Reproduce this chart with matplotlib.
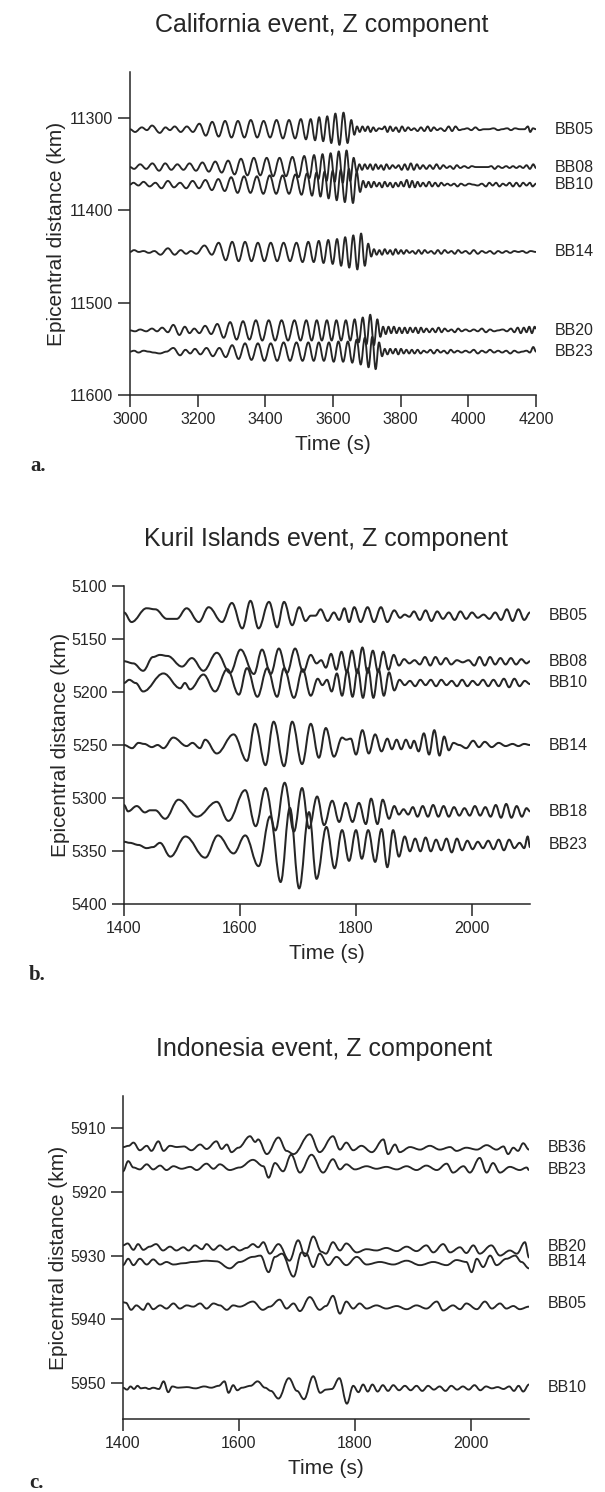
import matplotlib.pyplot as plt
from matplotlib.path import Path
from matplotlib.patches import PathPatch

plt.rcParams["font.family"] = ["Liberation Sans", "DejaVu Sans"]

# ---------------------------------------------------------------- data
# each trace: (time s, ground motion in km of plot offset, + = up) at the
# turning points; baselines are epicentral distances

ca_labels = ["BB05", "BB08", "BB10", "BB14", "BB20", "BB23"]
ca_dist = [11312, 11353, 11372, 11445, 11530, 11553]

ca_bb05 = [(3000, 0), (3015, -3), (3035, 2), (3050, -1), (3065, 4), (3088, -4), (3105, 2), (3118, -1),
           (3132, 3), (3150, -3), (3168, 3), (3186, -3), (3205, 6), (3224, -7), (3243, 8), (3262, -8),
           (3281, 9), (3300, -9), (3319, 9), (3338, -9), (3357, 10), (3376, -9), (3395, 9), (3414, -9),
           (3433, 10), (3452, -10), (3470, 10), (3488, -10), (3505, 11), (3520, -11), (3534, 11), (3547, -12),
           (3559, 13), (3571, -13), (3583, 14), (3595, -15), (3607, 17), (3619, -17), (3631, 18), (3643, -15),
           (3654, 10), (3663, -6), (3671, 3), (3679, -3), (3687, 3), (3695, -2), (3703, 3), (3711, -3),
           (3719, 2), (3727, -2), (3736, 1), (3745, 0), (3753, 3), (3761, -3), (3769, 3), (3777, -2),
           (3786, 2), (3795, -3), (3804, 3), (3813, -2), (3822, 2), (3831, -1), (3840, 1), (3850, -2),
           (3860, 2), (3870, -2), (3880, 3), (3889, -2), (3898, 2), (3908, -1), (3918, 1), (3930, -2),
           (3942, 3), (3952, -2), (3962, 3), (3973, -1), (3985, 0), (3997, 1), (4009, -1), (4021, 2),
           (4033, -1), (4046, 0), (4060, 0), (4075, 1), (4088, -1), (4100, 0), (4115, 1), (4126, -1),
           (4138, 1), (4152, 0), (4166, 0), (4176, 3), (4183, -3), (4191, 1), (4200, 0)]

ca_bb08 = [(3000, 0), (3012, -2), (3030, 3), (3048, -2), (3066, 4), (3086, -4), (3104, 4), (3122, -3),
           (3140, 3), (3158, -3), (3176, 4), (3195, -4), (3214, 5), (3233, -5), (3252, 6), (3271, -6),
           (3290, 7), (3309, -8), (3328, 9), (3347, -9), (3366, 10), (3385, -9), (3404, 10), (3423, -10),
           (3442, 10), (3461, -10), (3480, 11), (3498, -11), (3515, 12), (3530, -12), (3544, 13), (3557, -13),
           (3569, 14), (3581, -15), (3593, 15), (3605, -16), (3617, 17), (3629, -17), (3640, 18), (3651, -15),
           (3661, 10), (3670, -5), (3678, 3), (3686, -3), (3694, 3), (3702, -2), (3710, 3), (3718, -3),
           (3726, 3), (3734, -2), (3742, 2), (3750, -3), (3758, 3), (3767, -2), (3776, 2), (3785, -1),
           (3794, 2), (3803, -3), (3812, 3), (3821, -3), (3830, 4), (3839, -3), (3848, 3), (3857, -2),
           (3866, 2), (3876, -2), (3886, 2), (3896, -2), (3906, 3), (3916, -2), (3926, 2), (3936, -1),
           (3946, 1), (3956, -2), (3966, 2), (3976, -1), (3988, 1), (4000, -1), (4010, 1), (4022, 0),
           (4040, 0), (4058, 0), (4068, 1), (4078, -2), (4088, 1), (4100, -1), (4112, 1), (4122, -1),
           (4132, 1), (4142, -1), (4152, 1), (4162, -1), (4172, 2), (4182, -2), (4192, 3), (4200, -1)]

ca_bb10 = [(3000, 0), (3010, 2), (3025, -1), (3040, 3), (3058, -2), (3075, 2), (3093, -4), (3112, 4),
           (3130, -3), (3148, 2), (3166, -4), (3185, 4), (3204, -4), (3223, 5), (3242, -6), (3261, 6),
           (3280, -7), (3299, 8), (3318, -9), (3337, 9), (3356, -9), (3375, 9), (3394, -10), (3413, 10),
           (3432, -10), (3451, 10), (3470, -10), (3489, 11), (3507, -11), (3523, 12), (3538, -12), (3551, 13),
           (3563, -13), (3575, 14), (3587, -15), (3599, 15), (3611, -17), (3623, 16), (3635, -19), (3647, 17),
           (3659, -20), (3670, 14), (3680, -8), (3689, 4), (3697, -3), (3705, 3), (3713, -3), (3721, 3),
           (3729, -2), (3737, 2), (3745, -3), (3753, 3), (3761, -2), (3769, 2), (3777, -3), (3785, 2),
           (3793, -2), (3801, 3), (3809, -2), (3818, 5), (3826, -3), (3834, 4), (3842, -3), (3850, 3),
           (3858, -2), (3866, 2), (3875, -2), (3884, 3), (3893, -2), (3902, 2), (3911, -2), (3920, 2),
           (3929, -1), (3938, 1), (3948, -1), (3958, 1), (3968, -2), (3978, 1), (3990, -1), (4002, 1),
           (4014, 0), (4028, -1), (4040, 1), (4052, -2), (4062, 2), (4072, -1), (4082, 2), (4092, -2),
           (4102, 1), (4112, -1), (4122, 2), (4132, -2), (4142, 2), (4152, -2), (4162, 2), (4172, -1),
           (4182, 2), (4190, -2), (4200, 1)]

ca_bb14 = [(3000, 0), (3012, 2), (3026, 0), (3040, 1), (3056, -1), (3072, 1), (3090, -3), (3112, 4),
           (3132, -3), (3150, 2), (3166, -2), (3180, 1), (3196, -2), (3220, 7), (3242, -3), (3262, 10),
           (3283, -9), (3302, 11), (3321, -10), (3340, 11), (3359, -10), (3378, 10), (3397, -10), (3416, 10),
           (3435, -10), (3454, 10), (3473, -10), (3492, 10), (3510, -11), (3527, 11), (3543, -11), (3558, 12),
           (3572, -12), (3586, 13), (3599, -13), (3612, 14), (3624, -15), (3636, 16), (3648, -17), (3660, 18),
           (3672, -19), (3683, 20), (3694, -15), (3704, 9), (3713, -5), (3721, 3), (3729, -3), (3737, 2),
           (3745, -3), (3753, 3), (3761, -2), (3769, 2), (3777, -3), (3785, 3), (3793, -2), (3801, 2),
           (3809, -2), (3817, 2), (3826, -1), (3835, 1), (3844, -2), (3853, 2), (3862, -2), (3871, 2),
           (3880, -1), (3890, 1), (3900, -2), (3910, 2), (3920, -2), (3930, 2), (3940, -1), (3950, 1),
           (3960, -2), (3970, 2), (3980, -1), (3992, 1), (4004, -2), (4016, 2), (4028, -2), (4040, 1),
           (4052, -1), (4064, 1), (4076, -2), (4088, 1), (4100, -1), (4112, 1), (4124, -1), (4136, 1),
           (4148, 0), (4160, 1), (4172, -1), (4184, 1), (4200, 0)]

ca_bb20 = [(3000, 0), (3015, -1), (3030, 1), (3048, -1), (3065, 2), (3080, -1), (3095, 3), (3112, -2),
           (3128, 6), (3146, -5), (3162, 4), (3176, -3), (3190, 2), (3205, -3), (3222, 5), (3240, -4),
           (3258, 7), (3277, -8), (3296, 9), (3315, -10), (3334, 10), (3353, -10), (3372, 11), (3391, -11),
           (3410, 11), (3429, -11), (3448, 11), (3467, -11), (3486, 11), (3504, -11), (3521, 11), (3537, -11),
           (3552, 11), (3567, -11), (3582, 11), (3596, -11), (3610, 11), (3624, -11), (3638, 11), (3651, -11),
           (3664, 12), (3676, -13), (3688, 14), (3699, -15), (3710, 17), (3721, -16), (3731, 12), (3740, -7),
           (3748, 4), (3756, -4), (3764, 4), (3772, -3), (3780, 4), (3788, -3), (3796, 3), (3804, -3),
           (3812, 3), (3820, -3), (3828, 3), (3836, -2), (3844, 3), (3852, -3), (3860, 3), (3868, -2),
           (3876, 2), (3885, -2), (3894, 2), (3903, -2), (3912, 3), (3921, -2), (3930, 2), (3940, -1),
           (3950, 1), (3960, -2), (3970, 2), (3980, -1), (3992, 1), (4004, -1), (4016, 1), (4028, -1),
           (4040, 2), (4052, -2), (4064, 1), (4076, -1), (4088, 0), (4102, 1), (4114, -1), (4126, 2),
           (4136, -2), (4146, 3), (4155, -3), (4164, 3), (4172, -2), (4180, 4), (4188, -3), (4196, 4),
           (4200, 2)]

ca_bb23 = [(3000, 0), (3012, 1), (3025, -1), (3040, 1), (3055, 0), (3070, -1), (3088, -2), (3108, 0),
           (3128, 4), (3148, -4), (3164, 2), (3178, -2), (3192, 3), (3208, -3), (3226, 4), (3245, -5),
           (3264, 4), (3283, -6), (3302, 7), (3321, -8), (3340, 9), (3359, -9), (3378, 9), (3397, -10),
           (3416, 9), (3435, -10), (3454, 10), (3473, -10), (3492, 10), (3510, -10), (3527, 10), (3543, -10),
           (3558, 10), (3573, -10), (3588, 10), (3602, -11), (3616, 11), (3630, -11), (3644, 11), (3657, -12),
           (3670, 13), (3682, -14), (3694, 15), (3705, -17), (3716, 16), (3726, -19), (3736, 10), (3745, -5),
           (3753, 3), (3761, -3), (3769, 3), (3777, -2), (3785, 3), (3793, -3), (3801, 3), (3809, -2),
           (3817, 2), (3825, -2), (3833, 2), (3841, -2), (3850, 2), (3859, -2), (3868, 1), (3878, -1),
           (3888, 2), (3898, -2), (3908, 2), (3918, -1), (3928, 1), (3938, -2), (3948, 2), (3958, -1),
           (3968, 1), (3980, -1), (3992, 1), (4004, -1), (4016, 2), (4028, -2), (4040, 1), (4052, -1),
           (4064, 2), (4076, -1), (4088, 1), (4100, -1), (4112, 1), (4124, -2), (4136, 1), (4148, -1),
           (4160, 0), (4172, 1), (4182, -1), (4192, 5), (4200, 0)]

ku_labels = ["BB05", "BB08", "BB10", "BB14", "BB18", "BB23"]
ku_dist = [5128, 5171, 5191.5, 5250, 5312.6, 5344.3]

ku_bb05 = [(1400, 3), (1413, -6), (1439, 7), (1454, 6), (1474, -3), (1491, -3), (1508, 7), (1529, -6),
           (1546, 8), (1569, -6), (1586, 12), (1604, -12), (1618, 14), (1632, -12), (1650, 13), (1664, -11),
           (1676, 13), (1690, -9), (1702, 8), (1713, -5), (1722, 0), (1730, 0), (1739, 6), (1751, -5),
           (1762, 3), (1771, -4), (1780, 7), (1788, -6), (1797, 8), (1808, -6), (1820, 8), (1831, -6),
           (1843, 8), (1854, -6), (1866, 5), (1876, -2), (1884, 1), (1892, -1), (1900, 4), (1910, -4),
           (1920, 5), (1930, -5), (1940, 4), (1950, -3), (1960, 3), (1970, -4), (1980, 4), (1990, -3),
           (2000, 3), (2010, -2), (2020, 1), (2030, -3), (2040, 3), (2050, -4), (2060, 6), (2070, -5),
           (2080, 6), (2090, -4), (2100, 3)]

ku_bb08 = [(1400, 0), (1416, -2), (1433, -9), (1450, 4), (1462, 6), (1475, 5), (1500, -5), (1517, 3),
           (1537, -9), (1560, 8), (1583, -11), (1601, 11), (1624, -12), (1638, 11), (1653, -12), (1667, 12),
           (1681, -11), (1695, 12), (1709, -10), (1722, 6), (1732, -2), (1740, 1), (1748, -6), (1757, 7),
           (1766, -8), (1775, 9), (1784, -10), (1793, 10), (1802, -11), (1811, 13), (1820, -11), (1829, 10),
           (1838, -10), (1847, 9), (1856, -8), (1865, 6), (1874, -4), (1883, 2), (1892, -2), (1901, 1),
           (1910, -3), (1919, 4), (1928, -4), (1937, 4), (1946, -3), (1955, 3), (1964, -3), (1974, 1),
           (1984, -1), (1994, 1), (2004, -4), (2013, 4), (2022, -4), (2031, 4), (2040, -3), (2049, 3),
           (2058, -3), (2067, 3), (2076, -3), (2085, 2), (2094, -2), (2100, 0)]

ku_bb10 = [(1400, 0), (1409, 3), (1420, 0), (1433, -8), (1468, 9), (1497, -5), (1505, 0), (1514, -6),
           (1537, 8), (1557, -8), (1578, 13), (1598, -11), (1612, 14), (1630, -13), (1647, 14), (1664, -13),
           (1676, 14), (1693, -14), (1708, 13), (1722, -12), (1734, 4), (1742, -2), (1750, 3), (1758, -8),
           (1767, 9), (1776, -12), (1785, 12), (1794, -13), (1803, 13), (1812, -14), (1821, 14), (1830, -14),
           (1839, 13), (1848, -12), (1857, 10), (1866, -7), (1875, 3), (1884, -2), (1893, 2), (1902, -3),
           (1911, 3), (1920, -2), (1929, 3), (1938, -3), (1947, 3), (1956, -2), (1965, 2), (1974, -3),
           (1983, 3), (1992, -3), (2001, 2), (2010, -2), (2019, 3), (2028, -3), (2037, 3), (2046, -3),
           (2055, 4), (2064, -4), (2073, 4), (2082, -3), (2091, 2), (2100, -1)]

ku_bb14 = [(1400, 0), (1414, -3), (1425, 2), (1435, 1), (1448, -2), (1458, 0), (1468, -3), (1485, 7),
           (1508, -1), (1518, 2), (1531, -3), (1540, 5), (1560, -8), (1589, 10), (1612, -15), (1626, 20),
           (1644, -19), (1658, 22), (1676, -20), (1690, 22), (1707, -18), (1722, 20), (1736, -12), (1748, 16),
           (1762, -11), (1776, 7), (1783, 5), (1791, 6), (1800, -9), (1811, 14), (1822, -8), (1833, 10),
           (1844, -6), (1854, 6), (1862, -4), (1870, 5), (1878, -4), (1886, 5), (1894, -3), (1900, 4),
           (1908, -6), (1917, 11), (1926, -9), (1935, 14), (1944, -10), (1952, 8), (1960, -5), (1968, 2),
           (1978, 0), (1990, -3), (2002, 4), (2012, -2), (2022, 3), (2034, -2), (2046, 2), (2058, -1),
           (2070, 1), (2080, -1), (2090, 1), (2100, 0)]

ku_bb18 = [(1400, 6), (1407, 0), (1422, 5), (1436, -1), (1445, 1), (1454, 1), (1471, -7), (1494, 11),
           (1526, -5), (1560, 9), (1580, -9), (1609, 20), (1627, -14), (1644, 22), (1661, -18), (1677, 27),
           (1693, -19), (1707, 22), (1719, -16), (1733, 14), (1745, -13), (1759, 10), (1771, -10), (1782, 8),
           (1794, -10), (1805, 8), (1817, -12), (1826, 12), (1837, -12), (1846, 11), (1857, -7), (1866, 5),
           (1874, -3), (1882, 2), (1890, -3), (1898, 4), (1906, -5), (1915, 5), (1924, -5), (1933, 6),
           (1942, -5), (1951, 5), (1960, -5), (1969, 4), (1978, -4), (1987, 3), (1996, -4), (2005, 5),
           (2014, -4), (2023, 4), (2032, -5), (2041, 6), (2050, -6), (2059, 7), (2068, -6), (2077, 5),
           (2086, -5), (2094, 3), (2100, 0)]

ku_bb23 = [(1400, 3), (1410, 2), (1425, 0), (1439, -3), (1450, -2), (1462, 2), (1480, -11), (1506, 8),
           (1540, -12), (1562, 9), (1589, -8), (1609, 9), (1632, -20), (1652, 27), (1670, -35), (1686, 35),
           (1702, -41), (1719, 31), (1732, -32), (1749, 17), (1763, -22), (1776, 14), (1788, -15), (1800, 14),
           (1810, -13), (1821, 14), (1833, -16), (1844, 15), (1854, -21), (1864, 14), (1874, -11), (1884, 8),
           (1893, -6), (1902, 6), (1911, -6), (1920, 7), (1929, -6), (1938, 5), (1947, -5), (1956, 6),
           (1965, -7), (1974, 6), (1983, -5), (1992, 4), (2001, -4), (2010, 3), (2019, -3), (2028, 4),
           (2037, -4), (2046, 5), (2055, -5), (2064, 5), (2073, -3), (2082, 2), (2090, -3), (2096, 8),
           (2100, -2)]

in_labels = ["BB36", "BB23", "BB20", "BB14", "BB05", "BB10"]
in_dist = [5913, 5916.5, 5928.6, 5931, 5937.5, 5950.7]

in_bb36 = [(1400, 0), (1410, 0.2), (1418, 0.7), (1429, -0.5), (1441, 0.2), (1449, -0.6), (1461, 0.9),
           (1470, -0.6), (1481, 0.2), (1493, 0), (1505, 0.1), (1518, -0.5), (1533, 0.4), (1544, -0.3),
           (1561, 0.9), (1570, -0.3), (1579, 0.4), (1587, -0.8), (1599, -0.1), (1619, 1.7), (1628, 0.8),
           (1633, 1.2), (1648, -1.1), (1668, 1.5), (1682, -0.6), (1694, -1.1), (1722, 2.0), (1739, -0.8),
           (1762, 1.7), (1774, -0.4), (1785, 0.7), (1797, -0.5), (1811, 0.2), (1829, -0.8), (1849, 1.2),
           (1857, -1.1), (1869, 0.4), (1877, -0.8), (1895, 0), (1912, -0.4), (1929, 0.2), (1946, -0.4),
           (1964, 0), (1975, -0.6), (1992, -0.1), (2010, -0.4), (2027, 0.3), (2044, -0.4), (2056, 0.1),
           (2064, -1.1), (2073, -0.1), (2081, -0.6), (2090, 0.6), (2100, -0.4)]

in_bb23 = [(1400, -0.3), (1409, 1.3), (1418, 0.3), (1429, 0), (1441, 0.8), (1452, 0), (1464, 0.6),
           (1475, -0.1), (1487, 0.5), (1501, 0.1), (1516, 0.4), (1527, -0.1), (1544, 0.9), (1556, 0.1),
           (1567, 0.8), (1584, -0.1), (1601, 0.3), (1624, 1.5), (1642, 0.5), (1651, -1.3), (1662, 1.0),
           (1676, -0.3), (1690, 2.3), (1705, -0.5), (1725, 2.3), (1745, -0.5), (1762, 1.6), (1774, 0),
           (1785, 0.8), (1800, 0), (1820, 0.5), (1837, 0.1), (1854, 0.4), (1872, 0), (1889, 0.5),
           (1906, -0.1), (1923, 0.6), (1941, -0.1), (1958, 0.9), (1969, -0.5), (1987, 0.5), (1998, -0.5),
           (2015, 1.8), (2027, -0.5), (2038, 1.0), (2050, -0.5), (2067, 0.4), (2084, -0.1), (2096, 0.3),
           (2100, -0.1)]

in_bb20 = [(1400, 0.2), (1408, 0.5), (1418, -0.5), (1426, 0.4), (1435, -0.5), (1446, 0), (1457, 0.4),
           (1469, -0.6), (1481, 0), (1492, -0.6), (1504, -0.1), (1513, -0.6), (1524, 0.2), (1536, -0.4),
           (1544, 0.4), (1556, -0.5), (1567, 0.2), (1579, -0.5), (1590, 0), (1601, -0.6), (1613, -0.2),
           (1624, 0.4), (1633, -0.1), (1642, 0.7), (1653, -1.1), (1668, 0.4), (1687, -2.2), (1702, 1.0),
           (1714, -1.5), (1728, 1.6), (1742, -0.8), (1750, -1.1), (1762, 0.7), (1774, -0.6), (1785, 0.5),
           (1803, -0.9), (1820, -0.4), (1837, -0.6), (1854, -0.2), (1872, -0.7), (1889, 0), (1906, -0.7),
           (1923, 0.2), (1935, -0.9), (1952, 0.4), (1964, -0.9), (1981, -0.1), (1992, -1.0), (2004, 0.2),
           (2015, -1.1), (2035, 0.2), (2050, -1.4), (2067, -0.6), (2079, -1.1), (2093, 0.7), (2100, -1.7)]

in_bb14 = [(1400, -0.5), (1409, 0.5), (1418, -0.5), (1429, 0.5), (1441, -0.4), (1452, 0.4), (1464, -0.4),
           (1475, 0), (1487, -0.4), (1504, -0.2), (1521, 0), (1544, 0.2), (1561, 0.1), (1584, -1.0),
           (1601, 0), (1624, 0.8), (1637, 1.0), (1651, -1.6), (1662, 0.8), (1674, 1.3), (1694, -2.3),
           (1708, 1.5), (1716, 1.3), (1728, -0.8), (1739, 1.3), (1754, -0.5), (1768, 0.8), (1785, -0.5),
           (1803, 0.8), (1820, -0.4), (1843, 0), (1866, -0.4), (1889, 0.2), (1912, -0.5), (1935, 0),
           (1958, -0.5), (1975, 0.3), (1992, 0), (2001, -1.6), (2010, 0.5), (2021, -0.8), (2033, 1.0),
           (2044, -0.5), (2061, 0.5), (2076, 1.0), (2087, 0), (2100, -1.0)]

in_bb05 = [(1400, 0.2), (1405, 0.1), (1414, -1.0), (1423, -0.3), (1435, -1.0), (1443, 0), (1452, -0.9),
           (1464, -0.3), (1475, -0.8), (1487, 0), (1498, -0.8), (1510, -0.3), (1521, -0.5), (1533, 0),
           (1544, -0.8), (1556, 0), (1567, -0.3), (1579, -1.0), (1590, -0.3), (1601, -0.5), (1624, 0.3),
           (1641, -1.0), (1653, -0.5), (1670, 0.6), (1682, -0.8), (1694, 0), (1705, -1.2), (1722, 1.0),
           (1739, -1.0), (1750, -0.4), (1762, 1.2), (1774, -1.6), (1785, 0.3), (1797, -0.8), (1808, 0),
           (1820, -0.8), (1837, -0.3), (1854, -0.8), (1872, -0.4), (1889, -0.9), (1906, -0.3), (1923, -0.8),
           (1941, 0.3), (1952, -1.1), (1969, -0.3), (1981, -0.9), (1992, 0), (2010, -0.9), (2024, 0.3),
           (2036, -0.8), (2050, 0), (2061, -0.8), (2073, -0.4), (2084, -0.9), (2100, -0.5)]

in_bb10 = [(1400, 0), (1407, -0.3), (1413, 0.2), (1419, -0.2), (1425, 0.3), (1431, -0.1), (1438, 0),
           (1445, -0.2), (1452, 0), (1462, -0.2), (1470, 1.0), (1478, -0.7), (1485, 0.2), (1495, 0),
           (1510, 0.1), (1525, -0.1), (1540, 0.2), (1552, 0), (1565, 0.3), (1575, 1.0), (1582, -0.8),
           (1590, 0.4), (1597, -0.4), (1605, 0), (1620, 0.3), (1632, 1.0), (1645, 0), (1655, -0.5),
           (1668, -1.7), (1686, 1.5), (1700, -0.5), (1712, -1.8), (1728, 1.8), (1740, -0.8), (1750, -0.3),
           (1760, -0.2), (1773, 1.5), (1786, -2.5), (1797, 0.3), (1806, -0.7), (1814, 0.5), (1822, -0.6),
           (1830, 0.5), (1839, -0.6), (1848, 0.4), (1857, -0.5), (1866, 0.4), (1876, -0.4), (1886, 0.3),
           (1896, -0.4), (1906, 0.3), (1916, -0.5), (1926, 0.3), (1936, -0.3), (1946, 0.2), (1956, -0.5),
           (1966, 0.3), (1976, -0.3), (1986, 0.2), (1996, -0.3), (2006, 0.4), (2016, -0.4), (2026, 0.2),
           (2036, -0.1), (2046, 0.1), (2056, -0.2), (2066, 0.2), (2074, -0.5), (2082, 0.3), (2090, -0.6),
           (2100, 0.5)]

ca_traces = [ca_bb05, ca_bb08, ca_bb10, ca_bb14, ca_bb20, ca_bb23]
ku_traces = [ku_bb05, ku_bb08, ku_bb10, ku_bb14, ku_bb18, ku_bb23]
in_traces = [in_bb36, in_bb23, in_bb20, in_bb14, in_bb05, in_bb10]

W, H = 605, 1492
INK = "#262626"


def trace_path(pts, base):
    # smooth curve through the turning points (flat tangent at each one)
    t0, v0 = pts[0]
    verts = [(t0, base - v0)]
    codes = [Path.MOVETO]
    for (ta, va), (tb, vb) in zip(pts[:-1], pts[1:]):
        d = 0.38 * (tb - ta)
        verts += [(ta + d, base - va), (tb - d, base - vb), (tb, base - vb)]
        codes += [Path.CURVE4] * 3
    return Path(verts, codes)


def panel(box, traces, dists, labels, xlim, ylim, xticks, yticks, lw,
          title, title_xy, tag, tag_xy, ylab_x):
    left, top, right, bottom = box
    ax = fig.add_axes([left / W, 1 - bottom / H, (right - left) / W, (bottom - top) / H])
    for pts, d in zip(traces, dists):
        ax.add_patch(PathPatch(trace_path(pts, d), fill=False, lw=lw, ec=INK,
                               joinstyle="round", capstyle="round"))
    for d, lab in zip(dists, labels):
        ax.text(1.047, d, lab, transform=ax.get_yaxis_transform(),
                ha="left", va="center", fontsize=11.5, color=INK)
    ax.set_xlim(*xlim)
    ax.set_ylim(*ylim)
    ax.set_xticks(xticks)
    ax.set_yticks(yticks)
    for s in ("top", "right"):
        ax.spines[s].set_visible(False)
    for s in ("left", "bottom"):
        ax.spines[s].set_linewidth(1.1)
        ax.spines[s].set_color(INK)
    ax.tick_params(axis="x", length=8.5, width=1.1, pad=4, labelsize=11.5, colors=INK)
    ax.tick_params(axis="y", length=8.5, width=1.1, pad=3.5, labelsize=11.5, colors=INK)
    ax.set_xlabel("Time (s)", fontsize=15, color=INK)
    ax.xaxis.set_label_coords(0.5, -40 / (bottom - top))
    ax.set_ylabel("Epicentral distance (km)", fontsize=15, color=INK)
    ax.yaxis.set_label_coords((ylab_x - left) / (right - left), 0.5)
    fig.text(title_xy[0] / W, 1 - title_xy[1] / H, title, ha="center", va="center",
             fontsize=18, color=INK)
    fig.text(tag_xy[0] / W, 1 - tag_xy[1] / H, tag, ha="center", va="center",
             fontsize=15, fontweight="bold", family=["Liberation Serif", "DejaVu Serif"], color=INK)
    return ax


fig = plt.figure(figsize=(W / 100, H / 100), dpi=100)

panel((130, 72, 536, 395), ca_traces, ca_dist, ca_labels, (3000, 4200), (11600, 11250),
      range(3000, 4201, 200), [11300, 11400, 11500, 11600], 1.35,
      "California event, Z component", (322, 25), "a.", (38, 466), 66)

panel((124, 586, 530, 904), ku_traces, ku_dist, ku_labels, (1400, 2100), (5400, 5100),
      [1400, 1600, 1800, 2000], range(5100, 5401, 50), 1.45,
      "Kuril Islands event, Z component", (326, 539), "b.", (37, 975), 70)

panel((123, 1096, 529, 1419), in_traces, in_dist, in_labels, (1400, 2100), (5955.6, 5905),
      [1400, 1600, 1800, 2000], [5910, 5920, 5930, 5940, 5950], 1.35,
      "Indonesia event, Z component", (324, 1049), "c.", (36, 1483), 68)

fig.savefig("out.png", dpi=100)
